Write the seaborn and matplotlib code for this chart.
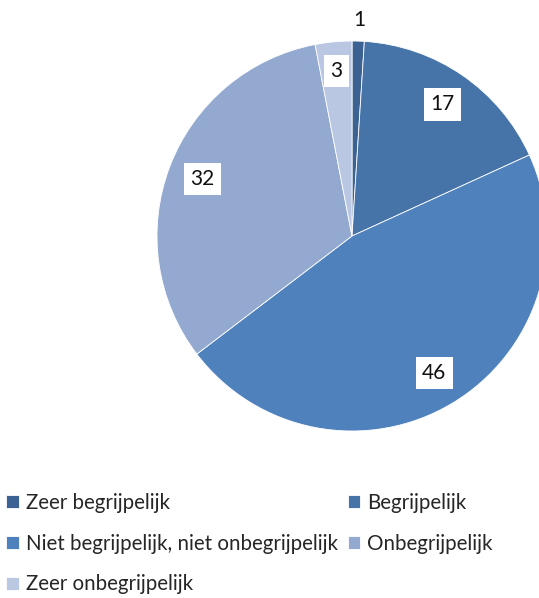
import numpy as np
import matplotlib
matplotlib.use("Agg")
import matplotlib.pyplot as plt
import seaborn as sns

categories = ["Zeer begrijpelijk", "Begrijpelijk", "Niet begrijpelijk, niet onbegrijpelijk",
              "Onbegrijpelijk", "Zeer onbegrijpelijk"]
values = [1, 17, 46, 32, 3]
colors = ["#3B6293", "#4674A8", "#4F81BD", "#93A9CF", "#BAC7E2"]

sns.set_theme(style="white")
plt.rcParams['font.family'] = ['Lato', 'DejaVu Sans']

W, H = 539, 598
fig = plt.figure(figsize=(W / 100, H / 100), dpi=100)
cx, cy, r = 352, 236, 195
ax = fig.add_axes([(cx - r) / W, (H - cy - r) / H, 2 * r / W, 2 * r / H])
wedges, _ = ax.pie(values, colors=colors, startangle=90, counterclock=False,
                   radius=1.0, wedgeprops=dict(edgecolor="white", linewidth=0.6))
ax.set_xlim(-1, 1)
ax.set_ylim(-1, 1)
ax.set_aspect("auto")
ax.axis("off")

label_r = [1.11, 0.82, 0.82, 0.82, 0.85]
for w, v, lr in zip(wedges, values, label_r):
    th = np.deg2rad((w.theta1 + w.theta2) / 2)
    x, y = lr * np.cos(th), lr * np.sin(th)
    kw = {}
    if lr < 1:
        kw["bbox"] = dict(boxstyle="square,pad=0.3", fc="white", ec="none")
    ax.text(x, y, str(v), ha="center", va="center", fontsize=15, color="#111111", **kw)

order = [0, 2, 4, 1, 3]
fig.legend([wedges[i] for i in order], [categories[i] for i in order],
           loc="upper left", bbox_to_anchor=(0.0, 1 - 487 / H), ncol=2,
           frameon=False, fontsize=14.8, handlelength=0.6, handleheight=0.6,
           handletextpad=0.35, columnspacing=0.5, labelspacing=1.0,
           borderaxespad=0.0, borderpad=0.3)

fig.savefig("out.png", dpi=100)
